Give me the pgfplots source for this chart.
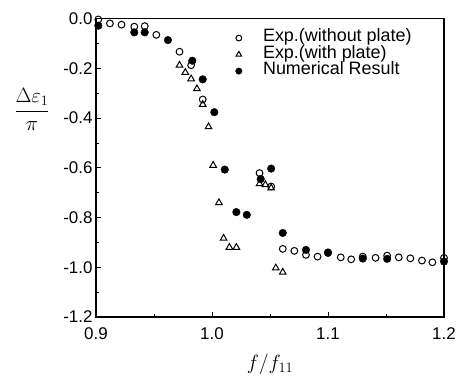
\documentclass[border=0pt]{standalone}
\usepackage{fontspec}
\setmainfont{Liberation Sans}
\usepackage{pgfplots}
\pgfplotsset{compat=1.18}
\begin{document}
\begin{tikzpicture}
\begin{axis}[
  scale only axis,
  width=348bp, height=298.3bp,
  xmin=0.9, xmax=1.2, ymin=-1.2, ymax=0.0,
  xtick={0.9,1.0,1.1,1.2},
  ytick={-1.2,-1.0,-0.8,-0.6,-0.4,-0.2,0.0},
  minor x tick num=1, minor y tick num=1,
  xtick pos=bottom, ytick pos=left,
  tick align=inside,
  major tick length=5bp, minor tick length=3bp,
  axis line style={line width=1.2bp},
  every tick/.style={line width=0.8bp, black},
  /pgf/number format/.cd, fixed, fixed zerofill, precision=1, assume math mode=true,
  /pgfplots/.cd,
  tick label style={font=\fontsize{17}{18}\selectfont},
  xticklabel style={yshift=-7bp},
  xlabel={$f/f_{11}$},
  xlabel style={font=\fontsize{21}{23}\selectfont, yshift=-8bp},
  ylabel={$\displaystyle\frac{\Delta\varepsilon_1}{\pi}$},
  ylabel style={font=\fontsize{21}{23}\selectfont, rotate=-90, at={(axis description cs:-0.123,0.695)}, anchor=east},
  legend style={at={(rel axis cs:0.392,0.970)}, anchor=north west, draw=none, fill=none,
    font=\fontsize{18}{18}\selectfont, row sep=0bp, column sep=20bp,
    nodes={inner sep=1bp, text height=11bp, text depth=3.5bp}},
  legend cell align=left,
  legend image post style={scale=0.85},
]
\addplot[only marks, mark=o, mark size=3.4bp, line width=1bp, black] coordinates {
(0.902,-0.003) (0.912,-0.019) (0.922,-0.024) (0.933,-0.032) (0.942,-0.030)
(0.952,-0.065) (0.972,-0.133) (0.982,-0.187) (0.992,-0.325)
(1.041,-0.621) (1.051,-0.675)
(1.061,-0.926) (1.071,-0.934) (1.081,-0.950) (1.091,-0.957) (1.100,-0.940)
(1.111,-0.960) (1.120,-0.968) (1.130,-0.957) (1.141,-0.962) (1.151,-0.953)
(1.161,-0.960) (1.171,-0.964) (1.181,-0.973) (1.190,-0.980) (1.200,-0.962)
};
\addlegendentry{Exp.(without plate)}
\addplot[only marks, mark=triangle, mark size=3.8bp, line width=1bp, black] coordinates {
(0.972,-0.187) (0.977,-0.216) (0.982,-0.242) (0.987,-0.282) (0.992,-0.345)
(0.997,-0.435) (1.001,-0.590) (1.006,-0.740) (1.010,-0.883) (1.015,-0.920)
(1.021,-0.920) (1.041,-0.664) (1.046,-0.668) (1.051,-0.681)
(1.055,-1.003) (1.061,-1.020)
};
\addlegendentry{Exp.(with plate)}
\addplot[only marks, mark=*, mark size=3.8bp, black] coordinates {
(0.902,-0.028) (0.933,-0.055) (0.942,-0.055) (0.962,-0.086) (0.983,-0.169)
(0.992,-0.244) (1.002,-0.376) (1.011,-0.607) (1.021,-0.778) (1.030,-0.789)
(1.042,-0.645) (1.051,-0.603) (1.061,-0.862) (1.081,-0.930) (1.100,-0.942)
(1.130,-0.965) (1.151,-0.966) (1.200,-0.977)
};
\addlegendentry{Numerical Result}
\end{axis}
\pgfresetboundingbox
\path[use as bounding box] ([shift={(-96bp,-63bp)}]current axis.south west) rectangle ([shift={(15bp,18.7bp)}]current axis.north east);
\end{tikzpicture}
\end{document}
